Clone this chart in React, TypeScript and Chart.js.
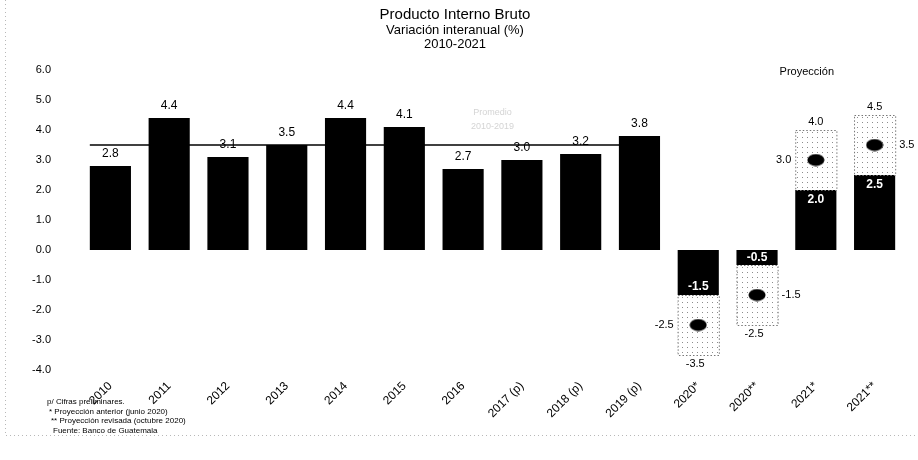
import React, { useEffect, useRef } from "react";
import { Chart, registerables } from "chart.js";

Chart.register(...registerables);

const categories = [
  "2010", "2011", "2012", "2013", "2014", "2015", "2016",
  "2017 (p)", "2018 (p)", "2019 (p)", "2020*", "2020**", "2021*", "2021**",
];
const observed = [2.8, 4.4, 3.1, 3.5, 4.4, 4.1, 2.7, 3.0, 3.2, 3.8, null, null, null, null];
const projSolid = [null, null, null, null, null, null, null, null, null, null, -1.5, -0.5, 2.0, 2.5];
const projLow = [null, null, null, null, null, null, null, null, null, null, -3.5, -2.5, 2.0, 2.5];
const projHigh = [null, null, null, null, null, null, null, null, null, null, -1.5, -0.5, 4.0, 4.5];
const projCentral = [null, null, null, null, null, null, null, null, null, null, -2.5, -1.5, 3.0, 3.5];
const averageValue = 3.5;
const yMin = -4;
const yMax = 6;
const titleLines = ["Producto Interno Bruto", "Variación interanual (%)", "2010-2021"];
const footnotes = [
  "p/ Cifras preliminares.",
  "* Proyección anterior (junio 2020)",
  "** Proyección revisada (octubre 2020)",
  "Fuente: Banco de Guatemala",
];
const projectionLabel = "Proyección";
const averageNote = ["Promedio", "2010-2019"];

const FONT = "'Liberation Sans', Arial, sans-serif";
const fmt = (v: number) => v.toFixed(1);

export default function App() {
  const ref = useRef<HTMLCanvasElement>(null);

  useEffect(() => {
    const canvas = ref.current!;
    const ctx0 = canvas.getContext("2d")!;

    const pc = document.createElement("canvas");
    pc.width = 5;
    pc.height = 5;
    const pctx = pc.getContext("2d")!;
    pctx.fillStyle = "#ffffff";
    pctx.fillRect(0, 0, 5, 5);
    pctx.fillStyle = "#8c8c8c";
    pctx.fillRect(2, 2, 1, 1);
    const pattern = ctx0.createPattern(pc, "repeat")!;

    const dot = document.createElement("canvas");
    dot.width = 18;
    dot.height = 13;
    const dctx = dot.getContext("2d")!;
    dctx.beginPath();
    dctx.ellipse(9, 6.5, 8.5, 6, 0, 0, Math.PI * 2);
    dctx.fillStyle = "#000";
    dctx.fill();

    const overlay = {
      id: "overlay",
      afterDatasetsDraw(chart: any) {
        const ctx = chart.ctx;
        const ys = chart.scales.y;
        ctx.save();

        const rangeMeta = chart.getDatasetMeta(0);
        rangeMeta.data.forEach((el: any, i: number) => {
          if (projLow[i] == null) return;
          const p = el.getProps(["x", "y", "base", "width"], true);
          const top = Math.min(p.y, p.base);
          const h = Math.abs(p.base - p.y);
          ctx.setLineDash([1.5, 2]);
          ctx.strokeStyle = "#777";
          ctx.lineWidth = 1;
          ctx.strokeRect(p.x - p.width / 2 + 0.5, top + 0.5, p.width, h);
        });
        ctx.setLineDash([]);

        const obsMeta = chart.getDatasetMeta(2);
        const idx = observed.map((v, i) => (v == null ? -1 : i)).filter((i) => i >= 0);
        const f = obsMeta.data[idx[0]].getProps(["x", "width"], true);
        const l = obsMeta.data[idx[idx.length - 1]].getProps(["x", "width"], true);
        const ay = ys.getPixelForValue(averageValue);
        ctx.strokeStyle = "#000";
        ctx.lineWidth = 1.5;
        ctx.beginPath();
        ctx.moveTo(f.x - f.width / 2, ay);
        ctx.lineTo(l.x + l.width / 2, ay);
        ctx.stroke();

        ctx.fillStyle = "#d4d4d4";
        ctx.font = `9px ${FONT}`;
        ctx.textAlign = "center";
        ctx.textBaseline = "middle";
        const nx = (obsMeta.data[6].x + obsMeta.data[7].x) / 2;
        ctx.fillText(averageNote[0], nx, ay - 32);
        ctx.fillText(averageNote[1], nx, ay - 18);

        ctx.fillStyle = "#000";
        ctx.font = `12px ${FONT}`;
        ctx.textBaseline = "bottom";
        obsMeta.data.forEach((el: any, i: number) => {
          const v = observed[i];
          if (v == null) return;
          ctx.fillText(fmt(v), el.x, el.y - 6);
        });

        const solidMeta = chart.getDatasetMeta(1);
        solidMeta.data.forEach((el: any, i: number) => {
          const s = projSolid[i];
          if (s == null) return;
          const p = el.getProps(["x", "y", "base", "width"], true);
          const neg = s < 0;
          ctx.fillStyle = "#fff";
          ctx.font = `bold 12px ${FONT}`;
          ctx.textAlign = "center";
          ctx.textBaseline = "middle";
          const inside = neg ? p.y - Math.min(8, Math.abs(p.y - p.base) / 2) : p.y + 10;
          ctx.fillText(fmt(s), p.x, inside);

          ctx.fillStyle = "#000";
          ctx.font = `11px ${FONT}`;
          const outerVal = neg ? (projLow[i] as number) : (projHigh[i] as number);
          const oy = ys.getPixelForValue(outerVal);
          if (neg) {
            ctx.textBaseline = "top";
            ctx.fillText(fmt(outerVal), p.x - 3, oy + 3);
          } else {
            ctx.textBaseline = "bottom";
            ctx.fillText(fmt(outerVal), p.x, oy - 3);
          }
          const c = projCentral[i] as number;
          const cy = ys.getPixelForValue(c);
          ctx.textBaseline = "middle";
          if ((i - 10) % 2 === 0) {
            ctx.textAlign = "right";
            ctx.fillText(fmt(c), p.x - p.width / 2 - 4, cy);
          } else {
            ctx.textAlign = "left";
            ctx.fillText(fmt(c), p.x + p.width / 2 + 4, cy);
          }
        });
        ctx.restore();
      },
      afterDraw(chart: any) {
        const ctx = chart.ctx;
        ctx.save();
        ctx.fillStyle = "#000";
        ctx.textAlign = "center";
        ctx.textBaseline = "middle";
        ctx.font = `15px ${FONT}`;
        ctx.fillText(titleLines[0], 455, 15);
        ctx.font = `13px ${FONT}`;
        ctx.fillText(titleLines[1], 455, 30);
        ctx.fillText(titleLines[2], 455, 44);

        const xs = chart.scales.x;
        ctx.font = `11px ${FONT}`;
        ctx.fillText(projectionLabel, xs.getPixelForValue(12) - 9, chart.chartArea.top + 2);

        ctx.textAlign = "left";
        ctx.font = `8px ${FONT}`;
        footnotes.forEach((t, k) => {
          ctx.fillText(t, 47 + k * 2, 402 + k * 9.5);
        });

        ctx.strokeStyle = "#b8b8b8";
        ctx.lineWidth = 1;
        ctx.setLineDash([1, 3]);
        ctx.beginPath();
        ctx.moveTo(5.5, 0);
        ctx.lineTo(5.5, 435.5);
        ctx.lineTo(918, 435.5);
        ctx.stroke();
        ctx.restore();
      },
    };

    const chart = new Chart(canvas, {
      type: "bar",
      data: {
        labels: categories,
        datasets: [
          {
            type: "bar",
            data: projLow.map((v, i) => (v == null ? null : [v, projHigh[i] as number])) as any,
            backgroundColor: pattern as any,
            borderWidth: 0,
            grouped: false,
            barPercentage: 0.7,
            categoryPercentage: 1,
            order: 3,
          },
          {
            type: "bar",
            data: projSolid as any,
            backgroundColor: "#000",
            borderWidth: 0,
            grouped: false,
            barPercentage: 0.7,
            categoryPercentage: 1,
            order: 2,
          },
          {
            type: "bar",
            data: observed as any,
            backgroundColor: "#000",
            borderWidth: 0,
            grouped: false,
            barPercentage: 0.7,
            categoryPercentage: 1,
            order: 1,
          },
          {
            type: "line",
            data: projCentral as any,
            showLine: false,
            pointStyle: dot as any,
            pointRadius: 8,
            pointHoverRadius: 8,
            order: 0,
          } as any,
        ],
      },
      options: {
        animation: false,
        responsive: false,
        maintainAspectRatio: false,
        layout: { padding: { top: 70, right: 14, left: 0, bottom: 0 } },
        plugins: {
          legend: { display: false },
          tooltip: { enabled: false },
          title: { display: false },
        },
        scales: {
          x: {
            type: "category",
            offset: true,
            grid: { display: false, drawTicks: false },
            border: { display: false },
            ticks: {
              autoSkip: false,
              maxRotation: 45,
              minRotation: 45,
              padding: 9,
              color: "#000",
              font: { family: FONT, size: 12 },
            },
            afterFit: (s: any) => {
              s.height = 90;
            },
          },
          y: {
            min: yMin,
            max: yMax,
            grid: { display: false, drawTicks: false },
            border: { display: false },
            ticks: {
              stepSize: 1,
              padding: 30,
              color: "#000",
              font: { family: FONT, size: 11 },
              callback: (v: any) => fmt(Number(v)),
            },
            afterFit: (s: any) => {
              s.width = 81;
            },
          },
        },
      },
      plugins: [overlay],
    });
    return () => chart.destroy();
  }, []);

  return (
    <div style={{ position: "absolute", left: 0, top: 0, width: 918, height: 460, background: "#fff" }}>
      <canvas ref={ref} width={918} height={460} style={{ display: "block" }} />
    </div>
  );
}
